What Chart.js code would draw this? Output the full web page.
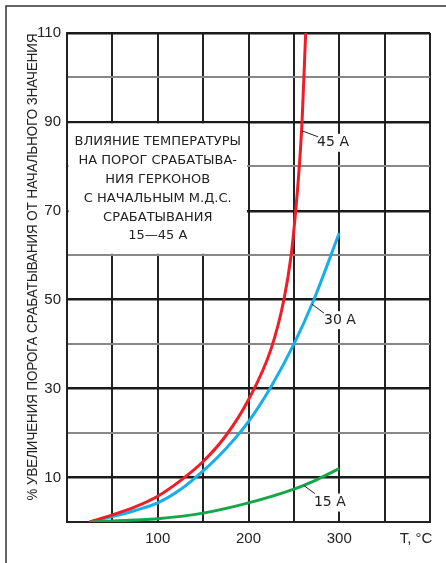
<!DOCTYPE html>
<html>
<head>
<meta charset="utf-8">
<script src="https://cdn.jsdelivr.net/npm/chart.js@4.4.0/dist/chart.umd.min.js"></script>
<style>
  html, body { margin: 0; padding: 0; background: #fff; }
  #wrap { width: 446px; height: 563px; position: relative; }
</style>
</head>
<body>
<div id="wrap"><canvas id="chart" width="446" height="563"></canvas></div>
<script>
/* кривые: рост порога срабатывания (%) от температуры (°C) */
const temps45 = [25, 50, 75, 100, 125, 150, 175, 200, 225, 239, 247, 252, 256, 259, 263];
const rise45  = [0, 1.6, 3.4, 5.8, 9.3, 13.6, 19.4, 27.5, 39, 50, 60, 70, 80, 90, 110];
const temps30 = [25, 50, 75, 100, 125, 150, 175, 200, 225, 250, 272, 300];
const rise30  = [0, 1.2, 2.6, 4.3, 7.3, 11.5, 16.5, 22.6, 30.5, 40, 50, 65];
const temps15 = [25, 50, 75, 100, 150, 200, 250, 275, 300];
const rise15  = [0, 0.2, 0.45, 0.75, 2, 4.3, 7.4, 9.5, 12];

const xTickLabels = [100, 200, 300];
const yTickLabels = [10, 30, 50, 70, 90, 110];

const yTitle = "% УВЕЛИЧЕНИЯ ПОРОГА СРАБАТЫВАНИЯ ОТ НАЧАЛЬНОГО ЗНАЧЕНИЯ";
const xTitle = "T, °C";
const noteLines = [
  "ВЛИЯНИЕ ТЕМПЕРАТУРЫ",
  "НА ПОРОГ СРАБАТЫВА-",
  "НИЯ ГЕРКОНОВ",
  "С НАЧАЛЬНЫМ М.Д.С.",
  "СРАБАТЫВАНИЯ",
  "15—45 А"
];
// подписи кривых: точка на кривой, от которой идёт выноска
const curveLabels = [
  { text: "45 А", at: [259, 88],  lead: [16, 6], pos: [31, 12] },
  { text: "30 А", at: [270, 49],  lead: [12, 9], pos: [28, 16] },
  { text: "15 А", at: [261, 8.2], lead: [11, 8], pos: [26, 17] }
];

const pts = (xs, ys) => xs.map((x, i) => ({ x, y: ys[i] }));

const narrow = "'Liberation Sans Narrow', 'Liberation Sans', Arial, sans-serif";
const roundFont = "'DejaVu Sans', Verdana, sans-serif";

const decor = {
  id: "decor",
  beforeDraw(chart) {
    const ctx = chart.ctx;
    ctx.save();
    ctx.strokeStyle = "#333";
    ctx.lineWidth = 1.5;
    ctx.beginPath();
    ctx.moveTo(6, 563);
    ctx.lineTo(6, 6);
    ctx.lineTo(446, 6);
    ctx.stroke();
    ctx.restore();
  },
  beforeDatasetsDraw(chart) {
    const { ctx, scales: { x, y } } = chart;
    // белая плашка с пояснением поверх сетки
    const l = x.getPixelForValue(0) + 1.5, r = x.getPixelForValue(200) - 1.5;
    const t = y.getPixelForValue(90) + 1.5, b = y.getPixelForValue(60) - 1.5;
    ctx.save();
    ctx.fillStyle = "#fff";
    ctx.fillRect(l, t, r - l, b - t);
    ctx.fillStyle = "#222";
    ctx.font = "13px " + roundFont;
    ctx.textAlign = "center";
    ctx.textBaseline = "middle";
    const cx = (l + r) / 2;
    noteLines.forEach((s, i) => ctx.fillText(s, cx, 142 + i * 18.8));
    ctx.restore();
  },
  afterDatasetsDraw(chart) {
    const { ctx, scales: { x, y } } = chart;
    ctx.save();
    ctx.font = "14px " + roundFont;
    ctx.textAlign = "center";
    ctx.textBaseline = "middle";
    curveLabels.forEach(c => {
      const px = x.getPixelForValue(c.at[0]);
      const py = y.getPixelForValue(c.at[1]);
      const tx = px + c.pos[0], ty = py + c.pos[1];
      const w = ctx.measureText(c.text).width;
      ctx.fillStyle = "#fff";
      ctx.fillRect(tx - w / 2 - 2, ty - 9, w + 4, 18);
      ctx.strokeStyle = "#222";
      ctx.lineWidth = 1;
      ctx.beginPath();
      ctx.moveTo(px, py);
      ctx.lineTo(px + c.lead[0], py + c.lead[1]);
      ctx.stroke();
      ctx.fillStyle = "#222";
      ctx.fillText(c.text, tx, ty);
    });

    // подпись оси X справа от шкалы
    ctx.font = "15px " + narrow;
    ctx.textAlign = "center";
    ctx.fillText(xTitle, 416, 539);

    // подпись оси Y
    ctx.translate(33, 267);
    ctx.rotate(-Math.PI / 2);
    ctx.font = "15px " + narrow;
    ctx.fillText(yTitle, 0, 0, 467);
    ctx.restore();
  }
};

new Chart(document.getElementById("chart"), {
  type: "line",
  data: {
    datasets: [
      { label: "15 А", data: pts(temps15, rise15), borderColor: "#15a64a", borderWidth: 3 },
      { label: "45 А", data: pts(temps45, rise45), borderColor: "#ee1d26", borderWidth: 3 },
      { label: "30 А", data: pts(temps30, rise30), borderColor: "#18aee9", borderWidth: 3 }
    ]
  },
  options: {
    responsive: false,
    animation: false,
    elements: { point: { radius: 0 }, line: { cubicInterpolationMode: "monotone", borderCapStyle: "butt" } },
    layout: { padding: { top: 33, right: 16, left: 0, bottom: 0 } },
    plugins: { legend: { display: false }, tooltip: { enabled: false } },
    scales: {
      x: {
        type: "linear",
        min: 0, max: 400,
        afterFit: s => { s.height = 41; },
        border: { display: true, color: "#222", width: 2 },
        grid: { color: "#222", lineWidth: 2, drawTicks: false },
        ticks: {
          stepSize: 50, autoSkip: false, maxRotation: 0, padding: 8,
          color: "#222", font: { family: narrow, size: 15 },
          callback: v => xTickLabels.includes(v) ? v : ""
        }
      },
      y: {
        type: "linear",
        min: 0, max: 110,
        afterFit: s => { s.width = 67; },
        border: { display: true, color: "#222", width: 2 },
        grid: {
          drawTicks: false,
          color: c => yTickLabels.includes(c.tick.value) ? "#1a1a1a" : "#888",
          lineWidth: c => yTickLabels.includes(c.tick.value) ? 2.5 : 2
        },
        ticks: {
          stepSize: 10, autoSkip: false, padding: 6,
          color: "#222", font: { family: narrow, size: 15 },
          callback: v => yTickLabels.includes(v) ? v : ""
        }
      }
    }
  },
  plugins: [decor]
});
</script>
</body>
</html>
